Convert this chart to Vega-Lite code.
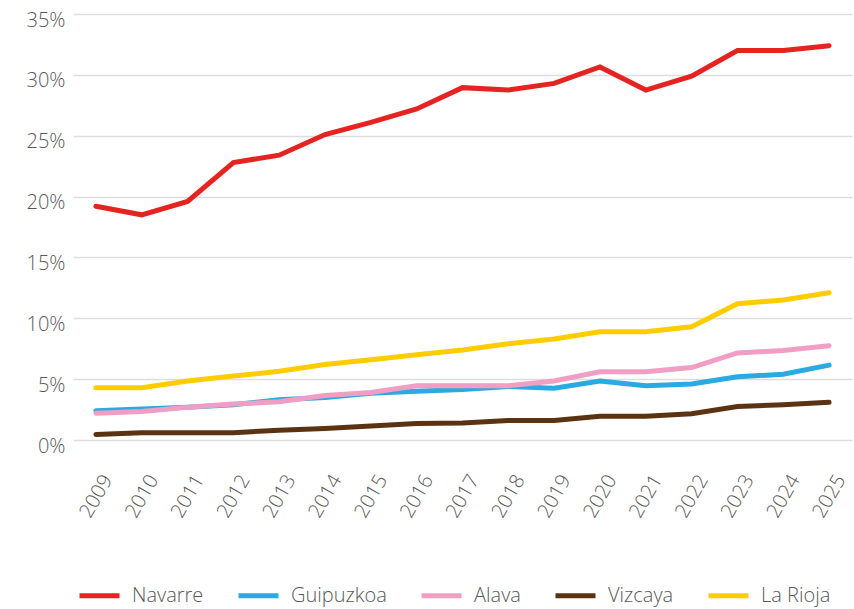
{
  "$schema": "https://vega.github.io/schema/vega-lite/v6.json",
  "autosize": "none",
  "width": 779,
  "height": 426,
  "padding": {"left": 73, "top": 14, "right": 2, "bottom": 169},
  "background": "white",
  "config": {
    "view": {"stroke": null},
    "font": "Open Sans",
    "axis": {"labelFont": "Open Sans", "labelColor": "#595959", "labelFontSize": 20, "labelFontWeight": 300},
    "legend": {"labelFont": "Open Sans", "labelColor": "#595959", "labelFontSize": 20, "labelFontWeight": 300, "labelLimit": 300}
  },
  "datasets": {
    "series": [
      {"year": "2009", "region": "Navarre", "value": 19.2},
      {"year": "2010", "region": "Navarre", "value": 18.5},
      {"year": "2011", "region": "Navarre", "value": 19.6},
      {"year": "2012", "region": "Navarre", "value": 22.8},
      {"year": "2013", "region": "Navarre", "value": 23.4},
      {"year": "2014", "region": "Navarre", "value": 25.1},
      {"year": "2015", "region": "Navarre", "value": 26.1},
      {"year": "2016", "region": "Navarre", "value": 27.2},
      {"year": "2017", "region": "Navarre", "value": 28.95},
      {"year": "2018", "region": "Navarre", "value": 28.75},
      {"year": "2019", "region": "Navarre", "value": 29.3},
      {"year": "2020", "region": "Navarre", "value": 30.65},
      {"year": "2021", "region": "Navarre", "value": 28.75},
      {"year": "2022", "region": "Navarre", "value": 29.9},
      {"year": "2023", "region": "Navarre", "value": 32.0},
      {"year": "2024", "region": "Navarre", "value": 32.0},
      {"year": "2025", "region": "Navarre", "value": 32.4},
      {"year": "2009", "region": "Guipuzkoa", "value": 2.4},
      {"year": "2010", "region": "Guipuzkoa", "value": 2.55},
      {"year": "2011", "region": "Guipuzkoa", "value": 2.7},
      {"year": "2012", "region": "Guipuzkoa", "value": 2.9},
      {"year": "2013", "region": "Guipuzkoa", "value": 3.3},
      {"year": "2014", "region": "Guipuzkoa", "value": 3.5},
      {"year": "2015", "region": "Guipuzkoa", "value": 3.85},
      {"year": "2016", "region": "Guipuzkoa", "value": 4.0},
      {"year": "2017", "region": "Guipuzkoa", "value": 4.15},
      {"year": "2018", "region": "Guipuzkoa", "value": 4.4},
      {"year": "2019", "region": "Guipuzkoa", "value": 4.25},
      {"year": "2020", "region": "Guipuzkoa", "value": 4.85},
      {"year": "2021", "region": "Guipuzkoa", "value": 4.45},
      {"year": "2022", "region": "Guipuzkoa", "value": 4.6},
      {"year": "2023", "region": "Guipuzkoa", "value": 5.2},
      {"year": "2024", "region": "Guipuzkoa", "value": 5.4},
      {"year": "2025", "region": "Guipuzkoa", "value": 6.15},
      {"year": "2009", "region": "Alava", "value": 2.2},
      {"year": "2010", "region": "Alava", "value": 2.35},
      {"year": "2011", "region": "Alava", "value": 2.7},
      {"year": "2012", "region": "Alava", "value": 2.95},
      {"year": "2013", "region": "Alava", "value": 3.15},
      {"year": "2014", "region": "Alava", "value": 3.65},
      {"year": "2015", "region": "Alava", "value": 3.9},
      {"year": "2016", "region": "Alava", "value": 4.45},
      {"year": "2017", "region": "Alava", "value": 4.45},
      {"year": "2018", "region": "Alava", "value": 4.45},
      {"year": "2019", "region": "Alava", "value": 4.85},
      {"year": "2020", "region": "Alava", "value": 5.6},
      {"year": "2021", "region": "Alava", "value": 5.6},
      {"year": "2022", "region": "Alava", "value": 5.95},
      {"year": "2023", "region": "Alava", "value": 7.15},
      {"year": "2024", "region": "Alava", "value": 7.35},
      {"year": "2025", "region": "Alava", "value": 7.75},
      {"year": "2009", "region": "Vizcaya", "value": 0.45},
      {"year": "2010", "region": "Vizcaya", "value": 0.6},
      {"year": "2011", "region": "Vizcaya", "value": 0.6},
      {"year": "2012", "region": "Vizcaya", "value": 0.6},
      {"year": "2013", "region": "Vizcaya", "value": 0.8},
      {"year": "2014", "region": "Vizcaya", "value": 0.95},
      {"year": "2015", "region": "Vizcaya", "value": 1.15},
      {"year": "2016", "region": "Vizcaya", "value": 1.35},
      {"year": "2017", "region": "Vizcaya", "value": 1.4},
      {"year": "2018", "region": "Vizcaya", "value": 1.6},
      {"year": "2019", "region": "Vizcaya", "value": 1.6},
      {"year": "2020", "region": "Vizcaya", "value": 1.95},
      {"year": "2021", "region": "Vizcaya", "value": 1.95},
      {"year": "2022", "region": "Vizcaya", "value": 2.15},
      {"year": "2023", "region": "Vizcaya", "value": 2.75},
      {"year": "2024", "region": "Vizcaya", "value": 2.9},
      {"year": "2025", "region": "Vizcaya", "value": 3.1},
      {"year": "2009", "region": "La Rioja", "value": 4.3},
      {"year": "2010", "region": "La Rioja", "value": 4.3},
      {"year": "2011", "region": "La Rioja", "value": 4.85},
      {"year": "2012", "region": "La Rioja", "value": 5.25},
      {"year": "2013", "region": "La Rioja", "value": 5.65},
      {"year": "2014", "region": "La Rioja", "value": 6.2},
      {"year": "2015", "region": "La Rioja", "value": 6.6},
      {"year": "2016", "region": "La Rioja", "value": 7.0},
      {"year": "2017", "region": "La Rioja", "value": 7.4},
      {"year": "2018", "region": "La Rioja", "value": 7.9},
      {"year": "2019", "region": "La Rioja", "value": 8.3},
      {"year": "2020", "region": "La Rioja", "value": 8.9},
      {"year": "2021", "region": "La Rioja", "value": 8.9},
      {"year": "2022", "region": "La Rioja", "value": 9.3},
      {"year": "2023", "region": "La Rioja", "value": 11.2},
      {"year": "2024", "region": "La Rioja", "value": 11.5},
      {"year": "2025", "region": "La Rioja", "value": 12.1}
    ]
  },
  "data": {"name": "series"},
  "mark": {"type": "line", "strokeWidth": 5, "strokeCap": "round", "strokeJoin": "miter"},
  "encoding": {
    "x": {
      "field": "year",
      "type": "ordinal",
      "scale": {"type": "point", "padding": 0.5},
      "axis": {
        "title": null,
        "domain": false,
        "ticks": false,
        "grid": false,
        "labelAngle": -60,
        "labelAlign": "center",
        "labelBaseline": "middle",
        "labelPadding": 56
      }
    },
    "y": {
      "field": "value",
      "type": "quantitative",
      "scale": {"domain": [0, 35], "nice": false},
      "axis": {
        "title": null,
        "values": [0, 5, 10, 15, 20, 25, 30, 35],
        "labelExpr": "datum.value + '%'",
        "domain": false,
        "ticks": false,
        "grid": true,
        "gridColor": "#DDDDDD",
        "gridWidth": 1.3,
        "labelPadding": 8,
        "labelOffset": 6
      }
    },
    "color": {
      "field": "region",
      "type": "nominal",
      "sort": ["Navarre", "Guipuzkoa", "Alava", "Vizcaya", "La Rioja"],
      "scale": {
        "domain": ["Navarre", "Guipuzkoa", "Alava", "Vizcaya", "La Rioja"],
        "range": ["#E52421", "#29ABE2", "#F09EC4", "#5C3312", "#FFCC00"]
      },
      "legend": {
        "title": null,
        "orient": "none",
        "legendX": 4,
        "legendY": 559,
        "direction": "horizontal",
        "columns": 5,
        "symbolType": "stroke",
        "symbolSize": 1600,
        "symbolStrokeWidth": 5,
        "labelOffset": 10,
        "columnPadding": 24
      }
    }
  }
}
